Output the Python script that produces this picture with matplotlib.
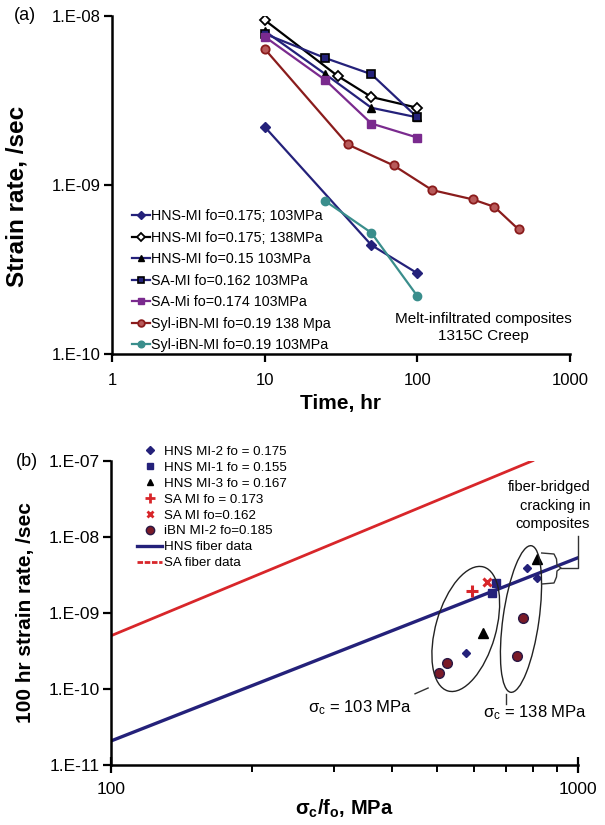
import matplotlib
matplotlib.use("Agg")
import matplotlib.pyplot as plt
import matplotlib.ticker as mticker
import matplotlib.transforms as mtransforms
from matplotlib.patches import Ellipse
from matplotlib.lines import Line2D

plt.rcParams['font.family'] = ['Liberation Sans', 'DejaVu Sans']
plt.rcParams['mathtext.fontset'] = 'custom'
plt.rcParams['mathtext.rm'] = 'Liberation Sans'
plt.rcParams['mathtext.it'] = 'Liberation Sans:italic'
plt.rcParams['mathtext.bf'] = 'Liberation Sans:bold'

# ---------------- (a) creep curves: time (hr) vs strain rate (/sec) ----------------
hns103_t = [10, 50, 100]
hns103_r = [2.2e-9, 4.4e-10, 3.0e-10]
hns138_t = [10, 30, 50, 100]
hns138_r = [9.4e-9, 4.4e-9, 3.3e-9, 2.85e-9]
hns015_t = [10, 25, 50, 100]
hns015_r = [8.1e-9, 4.5e-9, 2.85e-9, 2.5e-9]
sa162_t = [10, 25, 50, 100]
sa162_r = [7.8e-9, 5.6e-9, 4.5e-9, 2.5e-9]
sa174_t = [10, 25, 50, 100]
sa174_r = [7.5e-9, 4.15e-9, 2.3e-9, 1.9e-9]
syl138_t = [10, 35, 70, 125, 230, 320, 460]
syl138_r = [6.35e-9, 1.73e-9, 1.3e-9, 9.3e-10, 8.2e-10, 7.4e-10, 5.45e-10]
syl103_t = [25, 50, 100]
syl103_r = [8.0e-10, 5.2e-10, 2.2e-10]

a_labels = ["HNS-MI fo=0.175; 103MPa", "HNS-MI fo=0.175; 138MPa",
            "HNS-MI fo=0.15 103MPa", "SA-MI fo=0.162 103MPa",
            "SA-Mi fo=0.174 103MPa", "Syl-iBN-MI fo=0.19 138 Mpa",
            "Syl-iBN-MI fo=0.19 103MPa"]
a_xticks = [1, 10, 100, 1000]
a_xticklabels = ["1", "10", "100", "1000"]
a_yticks = [1e-10, 1e-9, 1e-8]
a_yticklabels = ["1.E-10", "1.E-09", "1.E-08"]

# ---------------- (b) 100 hr strain rate vs normalised stress ----------------
hnsmi2_x = [575, 778, 816]
hnsmi2_y = [2.97e-10, 3.9e-9, 2.85e-9]
hnsmi1_x = [656, 667]
hnsmi1_y = [1.81e-9, 2.5e-9]
hnsmi3_x = [627, 816]
hnsmi3_y = [5.5e-10, 5.1e-9]
sami173_x = [593]
sami173_y = [1.94e-9]
sami162_x = [637]
sami162_y = [2.52e-9]
ibn_x = [505, 525, 741, 762]
ibn_y = [1.64e-10, 2.18e-10, 2.74e-10, 8.5e-10]
hns_fiber_x = [100, 1000]
hns_fiber_y = [2.07e-11, 5.3e-9]
sa_fiber_x = [100, 800]
sa_fiber_y = [5.0e-10, 1.0e-7]

b_labels = ["HNS MI-2 fo = 0.175", "HNS MI-1 fo = 0.155", "HNS MI-3 fo = 0.167",
            "SA MI fo = 0.173", "SA MI fo=0.162", "iBN MI-2 fo=0.185",
            "HNS fiber data", "SA fiber data"]
b_xticks = [100, 1000]
b_xticklabels = ["100", "1000"]
b_yticks = [1e-11, 1e-10, 1e-9, 1e-8, 1e-7]
b_yticklabels = ["1.E-11", "1.E-10", "1.E-09", "1.E-08", "1.E-07"]

NAVY = '#24217a'
PURPLE = '#7a2a8e'
DKRED = '#8a1c1c'
TEAL = '#3a8e8c'
RED = '#d8262a'
CIRC = '#7a1a28'

W, H = 605, 825
fig = plt.figure(figsize=(W / 100, H / 100), dpi=100)


def fig_rect(l, t, r, b):
    return [l / W, 1 - b / H, (r - l) / W, (b - t) / H]


def style_axes(ax):
    for s in ('top', 'right'):
        ax.spines[s].set_visible(False)
    for s in ('left', 'bottom'):
        ax.spines[s].set_linewidth(1.8)


# ---- panel (a)
ax1 = fig.add_axes(fig_rect(112, 15.5, 570, 354))
ax1.set_xscale('log')
ax1.set_yscale('log')
ax1.set_xlim(1, 1000)
ax1.set_ylim(1e-10, 1e-8)
style_axes(ax1)

ms = 6
ax1.plot(hns103_t, hns103_r, '-', color=NAVY, lw=1.6, marker='D', ms=5,
         mfc=NAVY, mec=NAVY, label=a_labels[0])
ax1.plot(hns138_t, hns138_r, '-', color='black', lw=1.6, marker='D', ms=5.5,
         mfc='white', mec='black', mew=1.3, label=a_labels[1])
ax1.plot(hns015_t, hns015_r, '-', color=NAVY, lw=1.6, marker='^', ms=ms,
         mfc='black', mec='black', label=a_labels[2])
ax1.plot(sa162_t, sa162_r, '-', color=NAVY, lw=1.6, marker='s', ms=ms,
         mfc=NAVY, mec='black', mew=1.2, label=a_labels[3])
ax1.plot(sa174_t, sa174_r, '-', color=PURPLE, lw=1.6, marker='s', ms=ms,
         mfc=PURPLE, mec=PURPLE, label=a_labels[4])
ax1.plot(syl138_t, syl138_r, '-', color=DKRED, lw=1.6, marker='o', ms=ms,
         mfc='#b85a5a', mec=DKRED, mew=1.3, label=a_labels[5])
ax1.plot(syl103_t, syl103_r, '-', color=TEAL, lw=1.6, marker='o', ms=ms,
         mfc=TEAL, mec=TEAL, label=a_labels[6])

ax1.xaxis.set_major_locator(mticker.FixedLocator(a_xticks))
ax1.xaxis.set_major_formatter(mticker.FixedFormatter(a_xticklabels))
ax1.xaxis.set_minor_locator(mticker.NullLocator())
ax1.yaxis.set_major_locator(mticker.FixedLocator(a_yticks))
ax1.yaxis.set_major_formatter(mticker.FixedFormatter(a_yticklabels))
ax1.yaxis.set_minor_locator(mticker.NullLocator())
ax1.tick_params(axis='both', which='major', direction='out', length=6,
                width=1.6, labelsize=12, pad=2)
ax1.tick_params(axis='x', pad=8)
ax1.set_xlabel("Time, hr", fontsize=15, fontweight='bold', labelpad=4)
ax1.set_ylabel("Strain rate, /sec", fontsize=17.5, fontweight='bold')
ax1.yaxis.set_label_coords(-0.183, 0.464)

leg1 = ax1.legend(loc='upper left', bbox_to_anchor=(131.7 / W, 1 - 209.5 / H),
                  bbox_transform=fig.transFigure, frameon=False, fontsize=10.3,
                  handlelength=1.25, handletextpad=0.12, labelspacing=0.52,
                  borderpad=0, borderaxespad=0, markerscale=0.8, numpoints=1)

ax1.text(0.81, 0.078, "Melt-infiltrated composites\n1315C Creep",
         transform=ax1.transAxes, ha='center', va='center', fontsize=11,
         multialignment='center', linespacing=1.3)
fig.text(25 / W, 1 - 15 / H, "(a)", ha='center', va='center', fontsize=13)

# ---- panel (b)
ax2 = fig.add_axes(fig_rect(111, 460.7, 578, 765))
ax2.set_xscale('log')
ax2.set_yscale('log')
ax2.set_xlim(100, 1000)
ax2.set_ylim(1e-11, 1e-7)
style_axes(ax2)

ax2.plot(hns_fiber_x, hns_fiber_y, '-', color=NAVY, lw=2.4, zorder=2)
ax2.plot(sa_fiber_x, sa_fiber_y, '-', color=RED, lw=2.0, zorder=2)
ax2.plot(hnsmi2_x, hnsmi2_y, 'D', color=NAVY, ms=4.5, ls='none', zorder=3)
ax2.plot(hnsmi1_x, hnsmi1_y, 's', color=NAVY, ms=5.5, ls='none', zorder=3)
ax2.plot(hnsmi3_x, hnsmi3_y, '^', color='black', ms=6.5, ls='none', zorder=3)
ax2.plot(sami173_x, sami173_y, '+', color=RED, ms=8, mew=2.2, ls='none', zorder=3)
ax2.plot(sami162_x, sami162_y, 'x', color=RED, ms=6, mew=2.2, ls='none', zorder=3)
ax2.plot(ibn_x, ibn_y, 'o', mfc=CIRC, mec='#2a1844', mew=1.0, ms=7,
         ls='none', zorder=3)

ax2.xaxis.set_major_locator(mticker.FixedLocator(b_xticks))
ax2.xaxis.set_major_formatter(mticker.FixedFormatter(b_xticklabels))
ax2.xaxis.set_minor_locator(mticker.LogLocator(base=10, subs=range(2, 10)))
ax2.xaxis.set_minor_formatter(mticker.NullFormatter())
ax2.yaxis.set_major_locator(mticker.FixedLocator(b_yticks))
ax2.yaxis.set_major_formatter(mticker.FixedFormatter(b_yticklabels))
ax2.yaxis.set_minor_locator(mticker.NullLocator())
ax2.tick_params(axis='y', which='major', direction='out', length=6,
                width=1.6, labelsize=12.5, pad=2)
ax2.tick_params(axis='x', which='major', direction='inout', length=12,
                width=1.6, labelsize=12.5, pad=6)
ax2.tick_params(axis='x', which='minor', direction='out', length=5, width=1.4)
ax2.set_xlabel(r"σ$_\mathbf{c}$/f$_\mathbf{o}$, MPa", fontsize=14.5,
               fontweight='bold', labelpad=1)
ax2.set_ylabel("100 hr strain rate, /sec", fontsize=15, fontweight='bold',
               labelpad=10)

b_handles = [
    Line2D([], [], ls='none', marker='D', color=NAVY, ms=4),
    Line2D([], [], ls='none', marker='s', color=NAVY, ms=4.5),
    Line2D([], [], ls='none', marker='^', color='black', ms=5),
    Line2D([], [], ls='none', marker='+', color=RED, ms=6.5, mew=2),
    Line2D([], [], ls='none', marker='x', color=RED, ms=5, mew=2),
    Line2D([], [], ls='none', marker='o', mfc=CIRC, mec='#2a1844', ms=6),
    Line2D([], [], color=NAVY, lw=2.4),
    Line2D([], [], color=RED, lw=2.0, ls=(0, (2, 0.6))),
]
leg2 = ax2.legend(b_handles, b_labels, loc='upper left',
                  bbox_to_anchor=(137.3 / W, 1 - 445.5 / H),
                  bbox_transform=fig.transFigure, frameon=False, fontsize=9.6,
                  handlelength=1.85, handletextpad=0.12, labelspacing=0.27,
                  borderpad=0, borderaxespad=0)

# grouping ellipses, sized in inches around a data-space centre
ell_specs = [((575, 6.14e-10), 1.29, 0.60, 74), ((755, 8.3e-10), 1.48, 0.36, 82)]
for (cx, cy), ew, eh, ang in ell_specs:
    tr = fig.dpi_scale_trans + mtransforms.ScaledTranslation(cx, cy, ax2.transData)
    ax2.add_patch(Ellipse((0, 0), ew, eh, angle=ang, transform=tr,
                          fill=False, ec='#222222', lw=1.0, zorder=4,
                          clip_on=False))

ax2.plot([0.651, 0.679], [0.234, 0.253], color='#333333', lw=1.0,
         transform=ax2.transAxes, clip_on=False)
ax2.plot([0.846, 0.846], [0.232, 0.200], color='#333333', lw=1.0,
         transform=ax2.transAxes, clip_on=False)
ax2.text(0.533, 0.187, "σ$_\\mathregular{c}$ = 103 MPa", transform=ax2.transAxes,
         ha='center', va='center', fontsize=12)
ax2.text(0.908, 0.172, "σ$_\\mathregular{c}$ = 138 MPa", transform=ax2.transAxes,
         ha='center', va='center', fontsize=12)

# curly brace pointing to the high-stress points
brace_px = [(541.7, 553), (554, 554), (556.5, 559), (557, 565), (561, 568),
            (557, 571), (556.5, 577), (554, 583), (541.7, 584)]
link_px = [(561, 568), (578, 568), (578, 536)]


def to_axes(pts):
    xs = [(p[0] - 111) / 467 for p in pts]
    ys = [(765 - p[1]) / 304.3 for p in pts]
    return xs, ys


for pts in (brace_px, link_px):
    xs, ys = to_axes(pts)
    ax2.plot(xs, ys, color='#333333', lw=1.0, transform=ax2.transAxes,
             clip_on=False, zorder=4)

ax2.text(1.026, 0.935, "fiber-bridged\ncracking in\ncomposites",
         transform=ax2.transAxes, ha='right', va='top', fontsize=10.5,
         multialignment='right', linespacing=1.4)
fig.text(27 / W, 1 - 461 / H, "(b)", ha='center', va='center', fontsize=13)

fig.savefig("out.png", dpi=100)
